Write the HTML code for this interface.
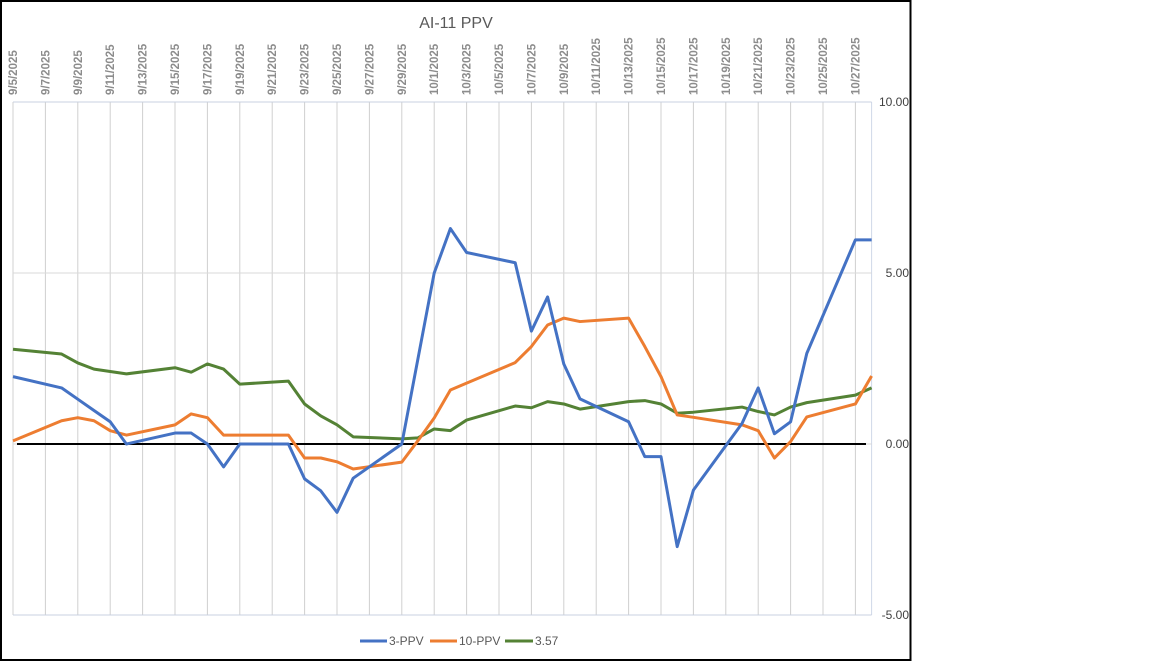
<!DOCTYPE html>
<html><head><meta charset="utf-8"><style>
html,body{margin:0;padding:0;background:#fff;}
svg{display:block;font-family:"Liberation Sans",sans-serif;}
</style></head><body>
<svg id="chart" width="1152" height="662" viewBox="0 0 1152 662" xmlns="http://www.w3.org/2000/svg">
<rect x="1" y="1" width="909.5" height="659" fill="#fff" stroke="#000" stroke-width="2"/>
<text x="456" y="28" text-anchor="middle" font-size="16" fill="#595959">AI-11 PPV</text>
<g id="grid"></g><g id="series"></g><g id="labels"></g>
<g font-size="12" fill="#595959">
<g><line x1="360" y1="641" x2="387" y2="641" stroke="#4472C4" stroke-width="3"/><text x="389" y="645">3-PPV</text></g>
<g><line x1="430" y1="641" x2="457" y2="641" stroke="#ED7D31" stroke-width="3"/><text x="459" y="645">10-PPV</text></g>
<g><line x1="505" y1="641" x2="533" y2="641" stroke="#548235" stroke-width="3"/><text x="535" y="645">3.57</text></g>
</g>
</svg>
<script>
const days = [0,3,4,5,6,7,10,11,12,13,14,17,18,19,20,21,24,25,26,27,28,31,32,33,34,35,38,39,40,41,42,45,46,47,48,49,52,53];
const ppv3 = [1.97,1.64,1.31,0.98,0.65,0,0.32,0.32,0,-0.67,0,0,-1.02,-1.37,-2.0,-1.0,0,2.5,5.0,6.3,5.6,5.3,3.3,4.3,2.34,1.32,0.65,-0.37,-0.37,-3.0,-1.35,0.6,1.64,0.3,0.65,2.65,5.97,5.97];
const ppv10 = [0.09,0.68,0.77,0.68,0.39,0.26,0.56,0.88,0.77,0.26,0.26,0.26,-0.41,-0.41,-0.52,-0.73,-0.53,0.1,0.76,1.58,1.78,2.38,2.85,3.48,3.68,3.58,3.68,2.85,1.97,0.85,0.78,0.56,0.39,-0.41,0.07,0.79,1.17,1.99];
const ref357 = [2.77,2.63,2.37,2.19,2.12,2.05,2.23,2.1,2.34,2.19,1.75,1.84,1.17,0.82,0.56,0.21,0.15,0.18,0.44,0.39,0.70,1.11,1.06,1.24,1.17,1.02,1.24,1.27,1.17,0.9,0.93,1.08,0.95,0.85,1.08,1.21,1.43,1.64];
const yTicks = [10,5,0,-5];
const dateLabels = ["9/5/2025","9/7/2025","9/9/2025","9/11/2025","9/13/2025","9/15/2025","9/17/2025","9/19/2025","9/21/2025","9/23/2025","9/25/2025","9/27/2025","9/29/2025","10/1/2025","10/3/2025","10/5/2025","10/7/2025","10/9/2025","10/11/2025","10/13/2025","10/15/2025","10/17/2025","10/19/2025","10/21/2025","10/23/2025","10/25/2025","10/27/2025"];
const X0=13, DAY=16.2, Y0=444, UNIT=34.2, DMAX=53;
const x = d => X0 + d*DAY;
const y = v => Y0 - v*UNIT;
const NS="http://www.w3.org/2000/svg";
function mk(tag, attrs, parent){const e=document.createElementNS(NS,tag);for(const k in attrs)e.setAttribute(k,attrs[k]);parent.appendChild(e);return e;}
const grid=document.getElementById('grid'), ser=document.getElementById('series'), lab=document.getElementById('labels');
dateLabels.forEach((t,i)=>{
  const gx=x(i*2);
  const l=mk('line',{x1:gx,y1:y(10),x2:gx,y2:y(-5),stroke:'#d0d0d0','stroke-width':1},grid);
  
  
  const tx=mk('text',{x:0,y:0,transform:`translate(${gx+4},95) rotate(-90)`,'font-size':11.5,'font-weight':'bold',fill:'#8c8c8c'},lab);
  tx.textContent=t;
  
  
});
const rb=mk('line',{x1:x(DMAX),y1:y(10),x2:x(DMAX),y2:y(-5),stroke:'#d0d8e8','stroke-width':1},grid);


yTicks.forEach(v=>{
  const g=mk('line',{x1:X0,y1:y(v),x2:x(DMAX),y2:y(v),stroke:(v===10||v===-5)?'#c8d0e0':'#d9d9d9','stroke-width':1},grid);
  
  
  const t=mk('text',{x:909,y:y(v)+4,'text-anchor':'end','font-size':12,fill:'#404040'},lab);
  t.textContent=v.toFixed(2);
  
  
});
const zl=mk('line',{x1:17,y1:y(0),x2:866,y2:y(0),stroke:'#000','stroke-width':2},grid);


function line(vals,color,name){
  const p=mk('polyline',{points:days.map((d,i)=>x(d)+','+y(vals[i])).join(' '),fill:'none',stroke:color,'stroke-width':3,'stroke-linejoin':'round'},ser);
  
  
}
line(ref357,'#548235','series-3-57-line');
line(ppv10,'#ED7D31','series-10-ppv-line');
line(ppv3,'#4472C4','series-3-ppv-line');
</script>
</body></html>
